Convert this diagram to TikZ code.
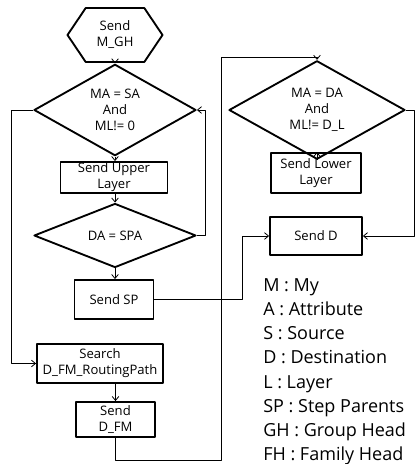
\documentclass[tikz,border=0pt]{standalone}
\usepackage{fontspec}
\setmainfont{Open Sans}
\usetikzlibrary{shapes.geometric,shapes.symbols,arrows.meta}
\def\px{.75pt} % one pixel of the drawing

\begin{document}
\begin{tikzpicture}[x=\px, y=-\px, font=\fontsize{9.8}{12}\selectfont, line join=round, >={Straight Barb[length=3pt,width=5pt]},
		box/.style={draw, line width=1.4pt, inner sep=0pt, align=center},
		cond/.style={draw, diamond, line width=1.4pt, inner sep=0pt, align=center, minimum height=64*\px},
		link/.style={line width=.6pt}]
		\useasboundingbox (0,0) rectangle (419,464);
		% left column
		\node[box, shape=signal, signal to=west and east, signal pointer angle=112, minimum width=95*\px, minimum height=54*\px] (mgh) at (115,35) {Send\\M\_GH};
		\node[cond, minimum width=162*\px] (upc) at (115,110) {MA = SA\\And\\ML!= 0};
		\node[box, minimum width=107*\px, minimum height=31*\px] (upper) at (114,177.5) {Send Upper\\Layer};
		\node[cond, minimum width=162*\px] (spc) at (115,235.5) {DA = SPA};
		\node[box, minimum width=79*\px, minimum height=39*\px] (sp) at (114,299.5) {Send SP};
		\node[box, minimum width=126*\px, minimum height=39*\px] (search) at (100,363.5) {Search\\D\_FM\_RoutingPath};
		\node[box, minimum width=79*\px, minimum height=35*\px] (dfm) at (115.5,419.5) {Send\\D\_FM};
		% right column
		\node[cond, minimum width=176*\px] (downc) at (317,110) {MA = DA\\And\\ML!= D\_L};
		\node[box, minimum width=90*\px, minimum height=40*\px] (lower) at (316,173) {Send Lower\\Layer};
		\node[box, minimum width=92*\px, minimum height=38*\px] (sendd) at (316,236) {Send D};
		\coordinate (turn) at (221,57);
		% legend
		\node[anchor=north west, align=left, inner sep=0pt, font=\fontsize{13.5}{18.2}\selectfont] (legend) at (263,278) {M : My\\A : Attribute\\S : Source\\D : Destination\\L : Layer\\SP : Step Parents\\GH : Group Head\\FH : Family Head};

		\draw[link,->] (mgh) -- (upc);
		\draw[link,->] (upc.south) -- (upc.south |- upper.north);
		\draw[link,->] (upc.south |- upper.south) -- (spc.north);
		\draw[link,->] (spc.south) -- (spc.south |- sp.north);
		\draw[link,->] (spc.east) -- ++(8,0) |- (upc.east);
		\draw[link,->] (upc.west) -- ++(-22,0) |- (search.west);
		\draw[link,->] (dfm.north |- search.south) -- (dfm.north);
		\draw[link,->] (dfm.south) -- ++(0,22) -| (turn) -| (downc.north);
		\draw[link,->] (sp.east) -- ++(88,0) |- (sendd.west);
		\draw[link,->] (downc.south) -- (downc.south |- lower.north);
		\draw[link,->] (downc.east) -- ++(8,0) |- (sendd.east);
\end{tikzpicture}
\end{document}
